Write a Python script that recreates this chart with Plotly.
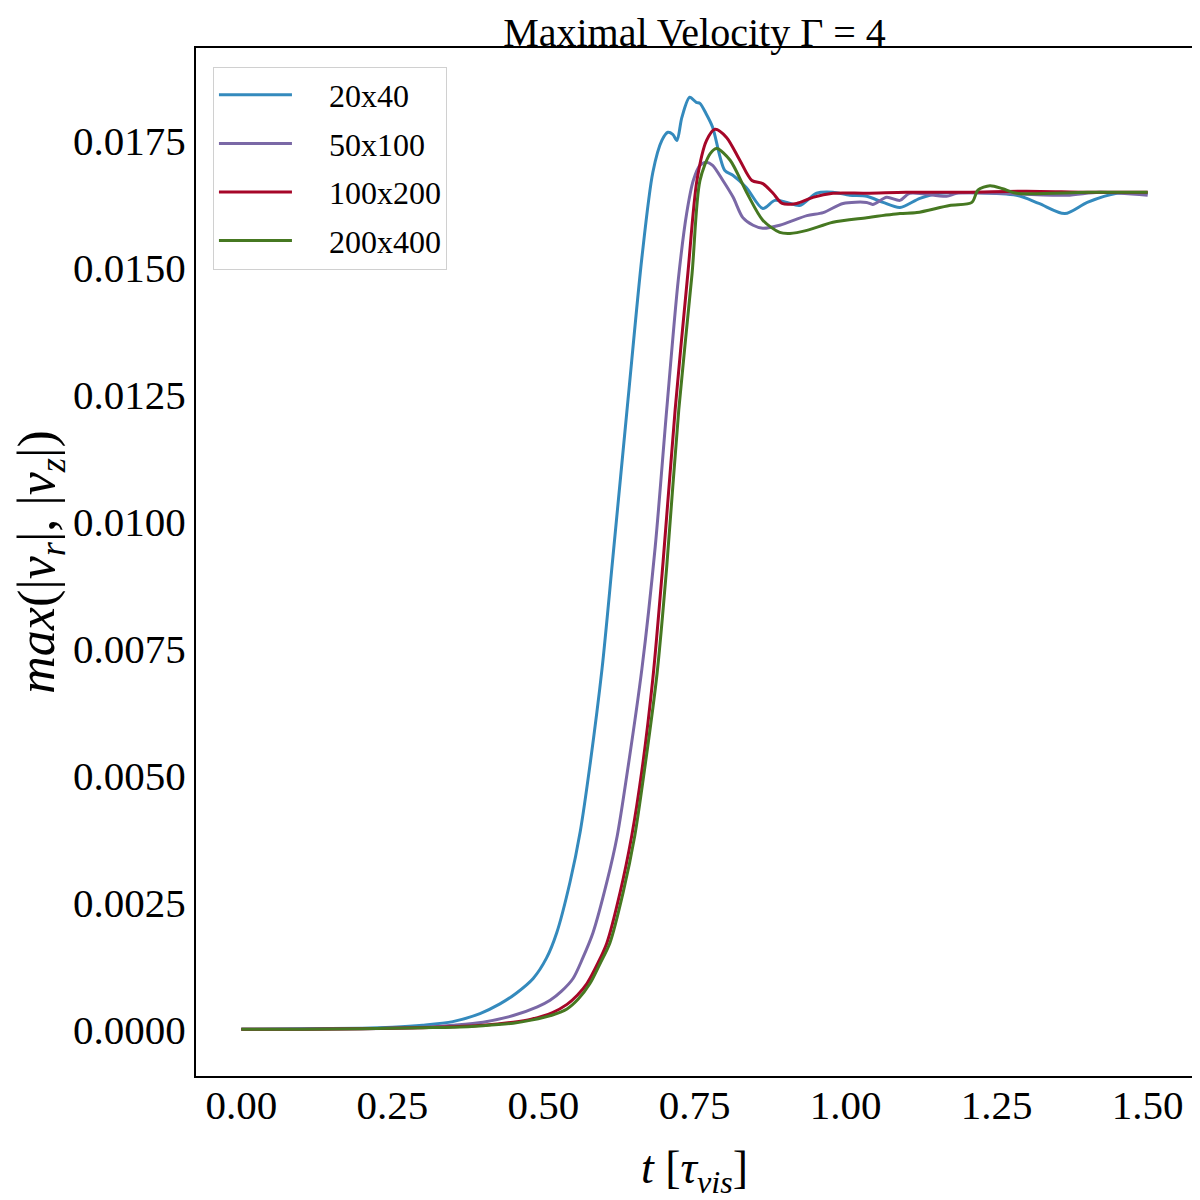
import plotly.graph_objects as go

# readings (t in tau_vis, v = max(|v_r|,|v_z|))
labels = ["20x40", "50x100", "100x200", "200x400"]
colors = ["#348ABD", "#7A68A6", "#A60628", "#467821"]

t_20x40 = [0.0, 0.1, 0.2, 0.25, 0.3, 0.35, 0.395, 0.428, 0.455, 0.483, 0.505, 0.522, 0.544,
           0.561, 0.577, 0.597, 0.615, 0.640, 0.663, 0.681, 0.696, 0.706, 0.714, 0.721, 0.729,
           0.742, 0.753, 0.759, 0.769, 0.780, 0.800, 0.814, 0.836, 0.863, 0.883, 0.903, 0.924,
           0.952, 0.979, 1.007, 1.035, 1.062, 1.090, 1.123, 1.156, 1.283, 1.320, 1.363, 1.400,
           1.449, 1.50]
v_20x40 = [0.0, 0.00001, 0.00002, 0.00004, 0.00008, 0.00015, 0.00031, 0.0005, 0.00071, 0.001,
           0.0014, 0.0019, 0.0029, 0.0039, 0.0052, 0.0071, 0.0093, 0.0124, 0.0152, 0.01687,
           0.0175, 0.01766, 0.01762, 0.0175, 0.01795, 0.01835, 0.01825, 0.01823, 0.01803,
           0.01776, 0.01691, 0.01681, 0.01657, 0.01616, 0.01632, 0.01628, 0.01622, 0.01646,
           0.01648, 0.01642, 0.0164, 0.01628, 0.01618, 0.01636, 0.01646, 0.01642, 0.01626,
           0.01606, 0.01628, 0.01646, 0.01646]

t_50x100 = [0.0, 0.1, 0.2, 0.3, 0.35, 0.4, 0.45, 0.49, 0.511, 0.530, 0.549, 0.565, 0.582,
            0.605, 0.622, 0.638, 0.663, 0.685, 0.704, 0.723, 0.737, 0.748, 0.759, 0.770, 0.780,
            0.797, 0.814, 0.830, 0.847, 0.863, 0.891, 0.936, 0.963, 0.996, 1.035, 1.045, 1.068,
            1.090, 1.106, 1.167, 1.184, 1.255, 1.366, 1.420, 1.50]
v_50x100 = [0.0, 0.0, 0.00001, 0.00004, 0.00008, 0.00014, 0.00027, 0.00044, 0.00057, 0.00075,
            0.001, 0.0014, 0.0019, 0.0029, 0.0038, 0.005, 0.0071, 0.0095, 0.0122, 0.01474,
            0.01606, 0.01671, 0.01701, 0.01707, 0.01701, 0.01671, 0.01638, 0.01598, 0.01583,
            0.01577, 0.01583, 0.01602, 0.01608, 0.01626, 0.01628, 0.01624, 0.01638, 0.01632,
            0.01646, 0.0164, 0.01646, 0.01646, 0.01642, 0.01648, 0.01642]

t_100x200 = [0.0, 0.1, 0.2, 0.3, 0.35, 0.4, 0.45, 0.48, 0.515, 0.539, 0.556, 0.572, 0.590,
             0.605, 0.627, 0.646, 0.663, 0.681, 0.698, 0.718, 0.739, 0.754, 0.770, 0.784,
             0.803, 0.825, 0.845, 0.863, 0.880, 0.895, 0.919, 0.946, 0.979, 1.035, 1.10, 1.20,
             1.30, 1.40, 1.50]
v_100x200 = [0.0, 0.0, 0.00001, 0.00003, 0.00005, 0.00008, 0.00014, 0.0002, 0.00033, 0.00049,
             0.00067, 0.0009, 0.0013, 0.0017, 0.0027, 0.0038, 0.0051, 0.0069, 0.0092, 0.0122,
             0.01488, 0.01671, 0.0175, 0.01772, 0.01756, 0.01711, 0.01671, 0.01665, 0.01646,
             0.01626, 0.01626, 0.01638, 0.01646, 0.01646, 0.01648, 0.01648, 0.0165, 0.01648,
             0.01648]

t_200x400 = [0.0, 0.1, 0.2, 0.3, 0.35, 0.4, 0.45, 0.48, 0.515, 0.539, 0.558, 0.577, 0.594,
             0.610, 0.632, 0.651, 0.666, 0.688, 0.704, 0.724, 0.746, 0.759, 0.776, 0.787,
             0.809, 0.837, 0.863, 0.891, 0.908, 0.936, 0.979, 1.035, 1.090, 1.118, 1.172,
             1.209, 1.219, 1.239, 1.260, 1.283, 1.40, 1.50]
v_200x400 = [0.0, 0.0, 0.00001, 0.00003, 0.00004, 0.00007, 0.00012, 0.00018, 0.00028, 0.0004,
             0.0006, 0.0009, 0.0013, 0.0017, 0.0027, 0.0038, 0.005, 0.007, 0.0091, 0.0122,
             0.01488, 0.01671, 0.01724, 0.01734, 0.01711, 0.01646, 0.01593, 0.01569, 0.01567,
             0.01573, 0.01589, 0.01598, 0.01606, 0.01608, 0.01622, 0.01628, 0.01652, 0.01661,
             0.01655, 0.01646, 0.01648, 0.01648]

series_t = [t_20x40, t_50x100, t_100x200, t_200x400]
series_v = [v_20x40, v_50x100, v_100x200, v_200x400]

x_ticks = [0.0, 0.25, 0.5, 0.75, 1.0, 1.25, 1.5]
y_ticks = [0.0, 0.0025, 0.005, 0.0075, 0.01, 0.0125, 0.015, 0.0175]

serif = "Liberation Serif"

fig = go.Figure()
for i in range(len(labels)):
    fig.add_trace(go.Scatter(
        x=series_t[i], y=series_v[i], mode="lines",
        name="\u2002\u2002" + labels[i],
        legendgroup=labels[i],
        line=dict(color=colors[i], width=3, shape="spline", smoothing=0.8),
    ))

# page is shifted by the 8px body margin, so the figure is 1192 square
fig.update_layout(
    width=1192, height=1192,
    margin=dict(l=188, r=5, t=40, b=124),
    paper_bgcolor="white", plot_bgcolor="white",
    font=dict(family=serif, size=41, color="black"),
    title=dict(text="Maximal Velocity Γ = 4", x=0.5, xref="paper", xanchor="center",
               y=1 - 10 / 1192, yref="container", yanchor="top", pad=dict(t=0, b=0),
               font=dict(family=serif, size=40, color="black")),
    legend=dict(x=0.017, y=0.982, xanchor="left", yanchor="top",
                bgcolor="white", bordercolor="#d0d0d0", borderwidth=1,
                font=dict(family=serif, size=32), traceorder="grouped",
                tracegroupgap=4, itemwidth=73),
    showlegend=True,
)

fig.update_xaxes(
    range=[-0.075, 1.575], tickvals=x_ticks, ticktext=["%.2f" % v for v in x_ticks],
    showgrid=False, zeroline=False, ticks="", showline=True, linecolor="black",
    linewidth=2, mirror=True, ticklabelstandoff=-8,
    title=dict(text="<i>t</i> [<i>τ<sub>vis</sub></i>]", standoff=30,
               font=dict(family=serif, size=46)),
)
fig.update_yaxes(
    range=[-0.00092, 0.01932], tickvals=y_ticks, ticktext=["%.4f" % v for v in y_ticks],
    showgrid=False, zeroline=False, ticks="", showline=True, linecolor="black",
    linewidth=2, mirror=True,
    title=dict(text="<i>max</i>(|<i>v<sub>r</sub></i>|, |<i>v<sub>z</sub></i>|)",
               standoff=2, font=dict(family=serif, size=52)),
)

fig.write_html("out.html")
